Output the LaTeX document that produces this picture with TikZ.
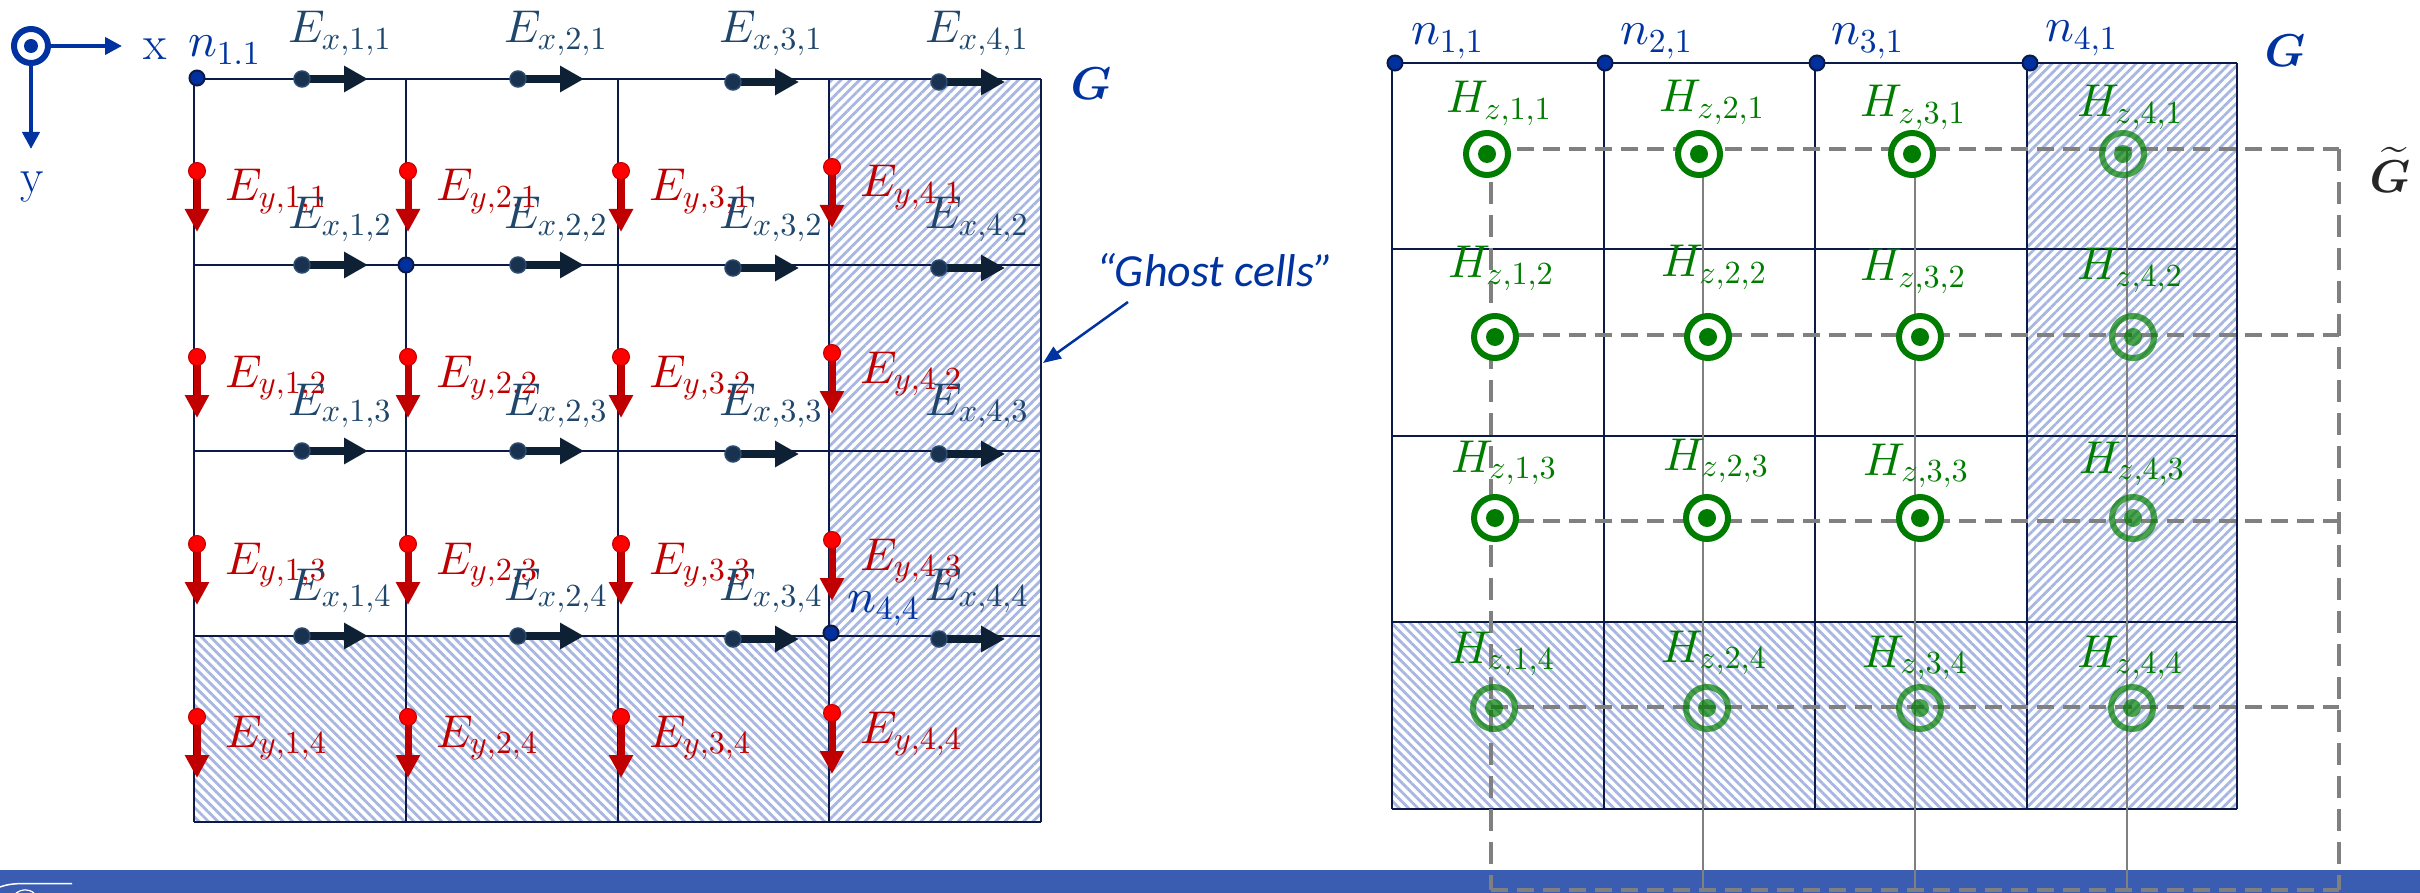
\documentclass[tikz,border=0pt]{standalone}
\usepackage{fontspec}
\usepackage{bm}
\DeclareFontShape{OML}{cmm}{m}{it}{<->cmmi10}{}
\DeclareFontShape{OML}{cmm}{b}{it}{<->cmmib10}{}
\DeclareFontShape{OMS}{cmsy}{m}{n}{<->cmsy10}{}
\DeclareFontShape{OMS}{cmsy}{b}{n}{<->cmbsy10}{}
\DeclareFontShape{OMX}{cmex}{m}{n}{<->cmex10}{}
\DeclareFontShape{OT1}{cmr}{m}{n}{<->cmr10}{}
\DeclareFontShape{OT1}{cmr}{bx}{n}{<->cmbx10}{}
\newfontfamily\carlito{Carlito}
\usetikzlibrary{arrows.meta,patterns.meta}
\definecolor{gridc}{RGB}{12,26,72}
\definecolor{hatchc}{RGB}{168,183,226}
\definecolor{exc}{RGB}{31,71,108}
\definecolor{exarc}{RGB}{14,33,52}
\definecolor{exdotc}{RGB}{24,50,80}
\definecolor{exdotl}{RGB}{45,75,110}
\definecolor{eyc}{RGB}{192,0,0}
\definecolor{eydotc}{RGB}{255,0,0}
\definecolor{nc}{RGB}{0,51,160}
\definecolor{ndotc}{RGB}{0,48,160}
\definecolor{hc}{RGB}{0,125,0}
\definecolor{dualc}{RGB}{128,128,128}
\definecolor{bannerc}{RGB}{58,93,178}
\definecolor{gtilc}{RGB}{38,38,38}
\begin{document}
\begin{tikzpicture}[x=1pt,y=-1pt,
  gridl/.style={draw=gridc,line width=2.5pt},
  lab/.style={anchor=base west,inner sep=0pt,outer sep=0pt,font=\fontsize{46}{52}\selectfont},
  exlab/.style={lab,text=exc},
  eylab/.style={lab,text=eyc},
  hlab/.style={lab,text=hc},
  nlab/.style={lab,text=nc,font=\fontsize{48}{54}\selectfont},
  exarr/.style={draw=exarc,line width=8pt,-{Triangle[length=24pt,width=25pt]}},
  eyarr/.style={draw=eyc,line width=7pt,-{Triangle[length=23pt,width=23pt]}},
  exdot/.style={circle,inner sep=0pt,minimum size=16pt,fill=exdotc,draw=exdotl,line width=1.5pt},
  eydot/.style={circle,inner sep=0pt,minimum size=17pt,fill=eydotc,draw=eyc,line width=1pt},
  ndot/.style={circle,inner sep=0pt,minimum size=15pt,fill=ndotc,draw=gridc,line width=2pt},
  hatchNE/.style={pattern={Lines[angle=45,distance=6.6pt,line width=2.8pt]},pattern color=hatchc},
  hatchNW/.style={pattern={Lines[angle=-45,distance=6.6pt,line width=2.8pt]},pattern color=hatchc},
  hring/.style={circle,inner sep=0pt,minimum size=42pt,draw=hc,line width=6pt,fill=white,
     path picture={\fill[hc] (path picture bounding box.center) circle (9pt);}},
  hghost/.style={circle,inner sep=0pt,minimum size=42pt,draw=hc,line width=6pt,draw opacity=0.7,
     path picture={\fill[hc,opacity=0.7] (path picture bounding box.center) circle (9pt);}},
  dualh/.style={draw=dualc,line width=4pt,dash pattern=on 17pt off 9pt},
  dualv/.style={draw=dualc,line width=3.5pt,dash pattern=on 22pt off 11pt},
  duals/.style={draw=dualc,line width=2.5pt},
  axarr/.style={draw=nc,line width=4pt,-{Triangle[length=17pt,width=17pt]}},
  glab/.style={inner sep=0pt,text=nc,font=\fontsize{46}{52}\selectfont},
]
\useasboundingbox (0,0) rectangle (2420,893);

% ---------------- banner ----------------
\fill[bannerc] (0,870) rectangle (2420,893);
\draw[white,line width=1.5pt] (0,887) .. controls (8,884) and (16,883.5) .. (26,883.5) -- (72,883.5);
\draw[white,line width=1.2pt] (16,893) .. controls (22,889) and (28,888.5) .. (34,893);

% ---------------- axes icon ----------------
\node[circle,inner sep=0pt,minimum size=34pt,draw=nc,line width=6pt,
  path picture={\fill[nc] (path picture bounding box.center) circle (7pt);}] (axo) at (31,46) {};
\coordinate (axx) at (122,46);
\coordinate (axy) at (31,149);
\draw[axarr] (axo.east) -- (axx);
\draw[axarr] (axo.south) -- (axy);
\node[anchor=base,inner sep=0pt,text=nc,font=\fontsize{48}{54}\selectfont] (axxl) at (155,60) {x};
\node[anchor=base,inner sep=0pt,text=nc,font=\fontsize{48}{54}\selectfont] (axyl) at (32,193) {y};

% ================= LEFT GRID =================
\fill[hatchNE] (829,79) rectangle (1041,822);
\fill[hatchNW] (194,636) rectangle (829,822);
\foreach \x in {194,406,618,829,1041} \draw[gridl] (\x,79) -- (\x,822);
\foreach \y in {79,265,451,636,822} \draw[gridl] (194,\y) -- (1041,\y);

% E_x arrows
\foreach \r/\ly in {1/79,2/265,3/451,4/636}
 \foreach \c/\dx/\dy in {1/302/0,2/518/0,3/733/3,4/939/3} {
   \coordinate (exa-\c-\r) at (\dx,\ly+\dy);
   \coordinate (exb-\c-\r) at (\dx+66,\ly+\dy);
   \draw[exarr] (exa-\c-\r) -- (exb-\c-\r);
   \node[exdot] (exd-\c-\r) at (exa-\c-\r) {};
 }
% E_y arrows and labels
\foreach \r/\py in {1/171,2/357,3/544,4/717}
 \foreach \c/\px/\dy in {1/197/0,2/408/0,3/621/0,4/832/-4} {
   \coordinate (eya-\c-\r) at (\px,\py+\dy);
   \coordinate (eyb-\c-\r) at (\px,\py+\dy+61);
   \draw[eyarr] (eya-\c-\r) -- (eyb-\c-\r);
   \node[eydot] (eyd-\c-\r) at (eya-\c-\r) {};
   \node[eylab] (eyl-\c-\r) at (\px+28,\py+\dy+30) {$E_{y,\c,\r}$};
 }
% E_x labels
\foreach \r/\ly in {1/79,2/265,3/451,4/636}
 \foreach \c/\dx in {1/302,2/518,3/733,4/939} {
   \node[exlab] (exl-\c-\r) at (\dx-14,\ly-36) {$E_{x,\c,\r}$};
 }
% nodes n
\node[ndot] (nL11) at (197,78) {};
\node[ndot] (nL22) at (406,265) {};
\node[ndot] (nL44) at (831,633) {};
\node[nlab] (nL11l) at (188,57) {$n_{1.1}$};
\node[nlab] (nL44l) at (847,612) {$n_{4,4}$};
\node[glab] (GL) at (1091,84) {$\bm{G}$};

% ghost cells callout
\node[inner sep=0pt,text=nc,font=\fontsize{46}{52}\selectfont\carlito\itshape] (gc) at (1215,270) {“Ghost cells”};
\coordinate (gcs) at (1128,302);
\coordinate (gce) at (1043,363);
\draw[draw=nc,line width=2.5pt,-{Triangle[length=18pt,width=14pt]}] (gcs) -- (gce);

% ================= RIGHT GRID =================
\fill[hatchNE] (2027,63) rectangle (2237,809);
\fill[hatchNW] (1392,622) rectangle (2027,809);
\foreach \x in {1392,1604,1815,2027,2237} \draw[gridl] (\x,63) -- (\x,809);
\foreach \y in {63,249,436,622,809} \draw[gridl] (1392,\y) -- (2237,\y);

% dual grid G~
\foreach \c/\x in {1/1491,2/1703,3/1915,4/2127,5/2339} {
  \coordinate (dvt-\c) at (\x,149);
  \coordinate (dvb-\c) at (\x,890);
}
\foreach \r/\y in {1/149,2/335,3/521,4/707,5/890} {
  \coordinate (dhl-\r) at (1491,\y);
  \coordinate (dhr-\r) at (2339,\y);
}
\draw[dualv] (dvt-1) -- (dvb-1);
\draw[dualv] (dvt-5) -- (dvb-5);
\foreach \c in {2,3,4} \draw[duals] (dvt-\c) -- (dvb-\c);
\foreach \r in {1,2,3,4,5} \draw[dualh] (dhl-\r) -- (dhr-\r);

% H_z markers
\foreach \c/\r/\cx/\cy in {1/1/1487/154,2/1/1699/154,3/1/1912/154,
  1/2/1495/337,2/2/1708/337,3/2/1920/337,
  1/3/1495/518,2/3/1707/518,3/3/1920/518}
  \node[hring] (hz-\c-\r) at (\cx,\cy) {};
\foreach \c/\r/\cx/\cy in {4/1/2123/154,4/2/2133/337,4/3/2133/518,
  1/4/1494/708,2/4/1707/708,3/4/1920/708,4/4/2132/708}
  \node[hghost] (hz-\c-\r) at (\cx,\cy) {};
\foreach \c/\r/\lx/\ly in {
  1/1/1446/113,2/1/1659/112,3/1/1860/117,4/1/2077/117,
  1/2/1448/278,2/2/1661/277,3/2/1860/281,4/2/2077/280,
  1/3/1451/472,2/3/1663/470,3/3/1863/475,4/3/2079/473,
  1/4/1449/663,2/4/1661/662,3/4/1862/667,4/4/2077/667}
  \node[hlab] (hzl-\c-\r) at (\lx,\ly) {$H_{z,\c,\r}$};

% top nodes
\foreach \i/\x/\lx/\ly in {1/1395/1411/45,2/1605/1620/45,3/1817/1831/45,4/2030/2045/42} {
  \node[ndot] (nR\i) at (\x,63) {};
  \node[nlab] (nRl\i) at (\lx,\ly) {$n_{\i,1}$};
}
\node[glab] (GR) at (2285,51) {$\bm{G}$};
\node[inner sep=0pt,text=gtilc,font=\fontsize{46}{52}\selectfont] (GT) at (2390,170) {$\widetilde{\bm{G}}$};
\end{tikzpicture}
\end{document}
